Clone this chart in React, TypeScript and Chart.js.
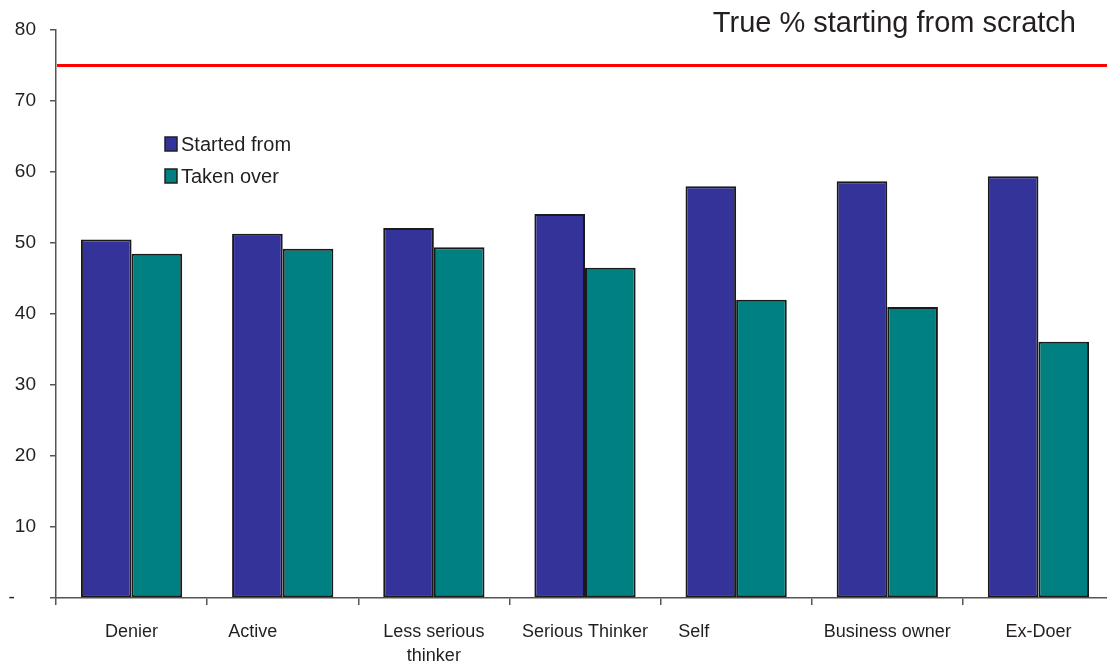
import React, { useEffect, useRef } from "react";
import { Chart, registerables } from "chart.js";

Chart.register(...registerables);

const categories: (string | string[])[] = [
  "Denier",
  "Active",
  ["Less serious", "thinker"],
  "Serious Thinker",
  "Self",
  "Business owner",
  "Ex-Doer",
];
const startedFrom = [50.5, 51.3, 52.1, 54.1, 58.0, 58.7, 59.4];
const takenOver = [48.5, 49.2, 49.4, 46.5, 42.0, 41.0, 36.1];
const seriesNames = ["Started from", "Taken over"];
const trueStartingFromScratch = 75;
const titleText = "True % starting from scratch";
const yMin = 0;
const yMax = 80;
const yStep = 10;

const TEXT = "#231f20";
const FONT = "'Liberation Sans', Arial, sans-serif";

// label trailing padding (in spaces) to mimic original label placement
const labelPad: Record<number, number> = { 1: 12, 4: 17 };

const overlayPlugin = {
  id: "overlay",
  afterDatasetsDraw(chart: any) {
    const { ctx, chartArea, scales } = chart;
    const y = scales.y.getPixelForValue(trueStartingFromScratch);
    ctx.save();
    ctx.strokeStyle = "#ff0000";
    ctx.lineWidth = 3;
    ctx.beginPath();
    ctx.moveTo(chartArea.left + 1, y);
    ctx.lineTo(chart.width, y);
    ctx.stroke();

    // title
    ctx.fillStyle = TEXT;
    ctx.font = `29px ${FONT}`;
    ctx.textAlign = "right";
    ctx.textBaseline = "middle";
    ctx.fillText(titleText, 1076, 24);

    // legend
    ctx.font = `20px ${FONT}`;
    ctx.textAlign = "left";
    chart.data.datasets.forEach((ds: any, i: number) => {
      const cy = 144 + i * 32;
      ctx.fillStyle = ds.backgroundColor;
      ctx.fillRect(165, cy - 7, 12, 14);
      ctx.strokeStyle = TEXT;
      ctx.lineWidth = 1.5;
      ctx.strokeRect(165, cy - 7, 12, 14);
      ctx.fillStyle = TEXT;
      ctx.fillText(ds.label, 181, cy + 1);
    });
    ctx.restore();
  },
};

export default function App() {
  const ref = useRef<HTMLCanvasElement>(null);
  useEffect(() => {
    if (!ref.current) return;
    const chart = new Chart(ref.current, {
      type: "bar",
      data: {
        labels: categories,
        datasets: [
          {
            label: seriesNames[0],
            data: startedFrom,
            backgroundColor: "#333399",
            borderColor: "#1a1a1a",
            borderWidth: 2,
            borderSkipped: false,
            categoryPercentage: 0.67,
            barPercentage: 1,
          },
          {
            label: seriesNames[1],
            data: takenOver,
            backgroundColor: "#008080",
            borderColor: "#1a1a1a",
            borderWidth: 2,
            borderSkipped: false,
            categoryPercentage: 0.67,
            barPercentage: 1,
          },
        ],
      },
      options: {
        responsive: false,
        animation: false,
        layout: { padding: { top: 30, right: 0, left: 0, bottom: 0 } },
        plugins: {
          legend: { display: false },
          tooltip: { enabled: false },
          title: { display: false },
        },
        scales: {
          x: {
            afterFit: (s: any) => {
              s.height = 70;
            },
            grid: {
              offset: true,
              drawOnChartArea: false,
              drawTicks: true,
              tickLength: 7,
              color: "#555",
              lineWidth: 1.5,
            },
            border: { display: true, color: "#555", width: 1.5 },
            ticks: {
              color: TEXT,
              font: { family: FONT, size: 18, lineHeight: 1.35 },
              padding: 15,
              maxRotation: 0,
              autoSkip: false,
              callback: function (this: any, _v: any, i: number) {
                const lab = categories[i];
                if (labelPad[i]) return (lab as string) + " ".repeat(labelPad[i]);
                return lab;
              },
            },
          },
          y: {
            min: yMin,
            max: yMax,
            afterFit: (s: any) => {
              s.width = 56;
            },
            grid: {
              drawOnChartArea: false,
              drawTicks: true,
              tickLength: 6,
              color: "#555",
              lineWidth: 1.5,
            },
            border: { display: true, color: "#555", width: 1.5 },
            ticks: {
              stepSize: yStep,
              color: TEXT,
              font: { family: FONT, size: 19 },
              padding: 14,
              callback: (v: any) => (v === 0 ? "-    " : String(v)),
            },
          },
        },
      },
      plugins: [overlayPlugin],
    });
    return () => chart.destroy();
  }, []);

  return (
    <div
      style={{
        position: "fixed",
        left: 0,
        top: 0,
        width: 1107,
        height: 668,
        overflow: "hidden",
        background: "#fff",
      }}
    >
      <canvas ref={ref} width={1114} height={668} style={{ display: "block" }} />
    </div>
  );
}
